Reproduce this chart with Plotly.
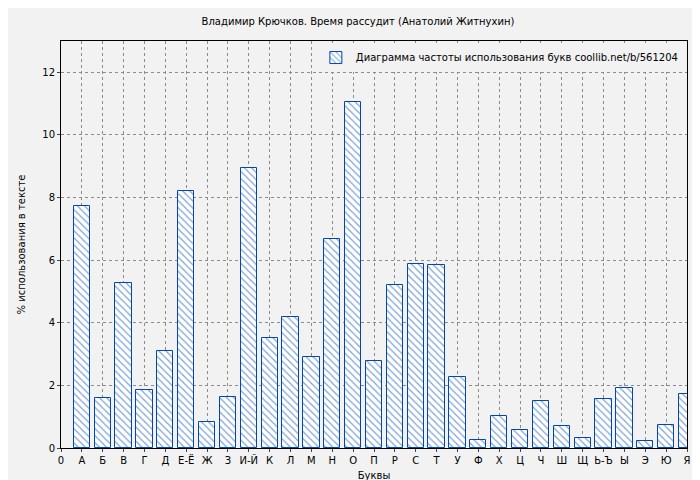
import plotly.graph_objects as go

letters = ["А", "Б", "В", "Г", "Д", "Е-Ё", "Ж", "З", "И-Й", "К", "Л", "М", "Н", "О", "П",
           "Р", "С", "Т", "У", "Ф", "Х", "Ц", "Ч", "Ш", "Щ", "Ь-Ъ", "Ы", "Э", "Ю", "Я"]
freq = [7.72, 1.6, 5.27, 1.85, 3.1, 8.2, 0.83, 1.63, 8.94, 3.51, 4.18, 2.9, 6.67, 11.04, 2.78,
        5.2, 5.87, 5.84, 2.27, 0.26, 1.02, 0.57, 1.5, 0.7, 0.32, 1.56, 1.92, 0.22, 0.73, 1.72]
tick_labels = ["0"] + letters

positions = list(range(1, len(letters) + 1))

fig = go.Figure(go.Bar(
    x=positions, y=freq, width=0.78,
    name="Диаграмма частоты использования букв coollib.net/b/561204",
    marker=dict(color="white", line=dict(color="#0047b3", width=1),
                pattern=dict(shape="\\", fgcolor="#0047b3", bgcolor="white", size=5, solidity=0.25)),
))

fig.update_layout(
    width=700, height=480,
    margin=dict(l=53, r=21, t=33, b=40, autoexpand=False),
    paper_bgcolor="#f2f2f2", plot_bgcolor="#f2f2f2",
    font=dict(family="DejaVu Sans", size=10, color="black"),
    title=dict(text="Владимир Крючков. Время рассудит (Анатолий Житнухин)",
               x=0.5, y=0.98, xanchor="center", font=dict(size=10)),
    showlegend=True,
    legend=dict(x=0.995, y=0.995, xanchor="right", yanchor="top",
                bgcolor="#f2f2f2", font=dict(size=10)),
    bargap=0,
)
fig.update_xaxes(range=[0, 30], tickmode="array", tickvals=list(range(0, 31)),
                 ticktext=tick_labels, showgrid=True, gridcolor="#8c8c8c", griddash="dot",
                 gridwidth=1, automargin=False,
                 showline=True, linecolor="black", mirror=True, ticks="outside", ticklen=3,
                 tickfont=dict(size=10),
                 title=dict(text="Буквы", standoff=6, font=dict(size=10)))
fig.update_yaxes(range=[0, 13], tickvals=[0, 2, 4, 6, 8, 10, 12],
                 showgrid=True, gridcolor="#8c8c8c", griddash="dot", zeroline=False,
                 automargin=False,
                 showline=True, linecolor="black", mirror=True, ticks="outside", ticklen=3,
                 tickfont=dict(size=10),
                 title=dict(text="% использования в тексте", standoff=14, font=dict(size=10)))

fig.write_html("out.html")
